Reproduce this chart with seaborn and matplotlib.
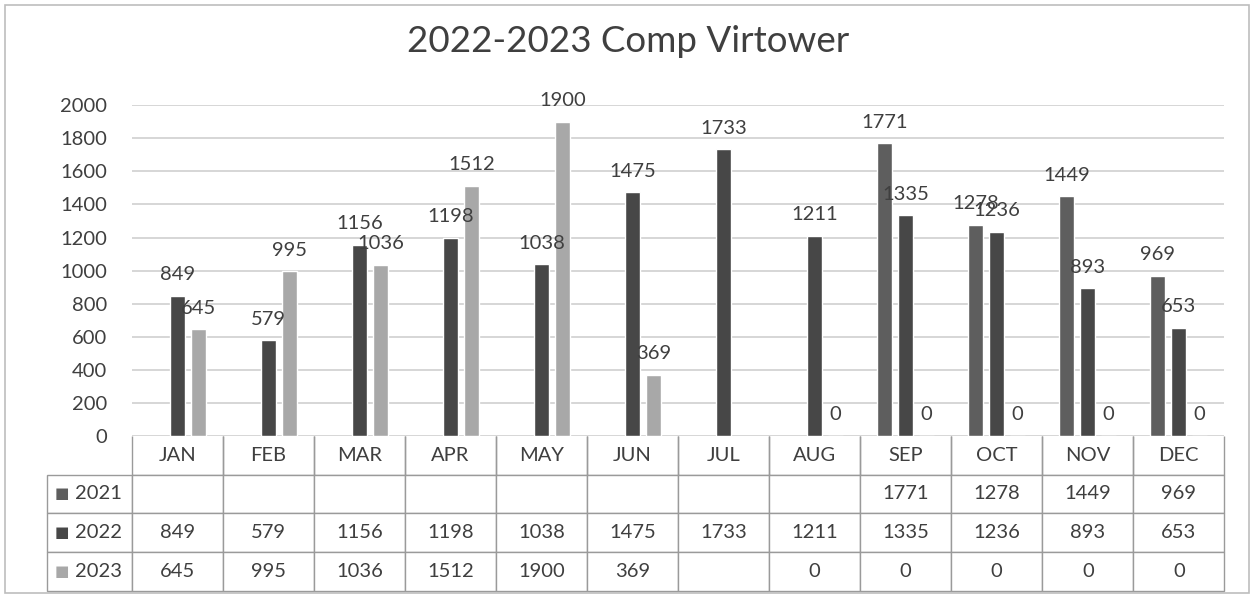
"""2022-2023 Comp Virtower: grouped monthly bars with an Excel-style data table underneath."""

import numpy as np
import pandas as pd
import matplotlib
matplotlib.use("Agg")
import matplotlib.pyplot as plt
import seaborn as sns
from matplotlib.patches import Rectangle

months = ["JAN", "FEB", "MAR", "APR", "MAY", "JUN",
          "JUL", "AUG", "SEP", "OCT", "NOV", "DEC"]
years = ["2021", "2022", "2023"]
v2021 = [np.nan] * 8 + [1771, 1278, 1449, 969]
v2022 = [849, 579, 1156, 1198, 1038, 1475, 1733, 1211, 1335, 1236, 893, 653]
v2023 = [645, 995, 1036, 1512, 1900, 369, np.nan, 0, 0, 0, 0, 0]
yticks = list(range(0, 2001, 200))

colors = {"2021": "#5e5e5e", "2022": "#474747", "2023": "#a8a8a8"}
txt = "#3f3f3f"

df = pd.DataFrame({
    "month": months * 3,
    "year": [y for y in years for _ in months],
    "value": v2021 + v2022 + v2023,
}).dropna()

sns.set_style("white")
plt.rcParams["font.family"] = ["Lato", "DejaVu Sans"]

fig = plt.figure(figsize=(12.57, 5.98), dpi=100)
ax = fig.add_axes([0.105, 0.271, 0.869, 0.553])

sns.barplot(data=df, x="month", y="value", hue="year", order=months,
            hue_order=years, palette=colors, width=0.69, gap=0.28,
            saturation=1, legend=False, ax=ax, errorbar=None)

for cont in ax.containers:
    ax.bar_label(cont, fmt="%d", padding=9, fontsize=14.5, color=txt)

ax.set_ylim(0, 2000)
ax.set_yticks(yticks)
ax.set_xlim(-0.5, len(months) - 0.5)
ax.yaxis.grid(True, color="#cfcfcf", linewidth=1.2)
ax.set_axisbelow(True)
ax.tick_params(axis="y", length=0, pad=18, labelsize=14.5, labelcolor=txt)
ax.set_xticks([])
ax.set_xlabel("")
ax.set_ylabel("")
sns.despine(ax=ax, left=True, bottom=True)

# data table under the plot
rows = [[y] + ["" if np.isnan(v) else f"{int(v)}" for v in vals]
        for y, vals in zip(years, [v2021, v2022, v2023])]
tab = ax.table(cellText=rows, colLabels=[""] + months,
               colWidths=[85] + [91] * 12,
               bbox=[-0.078, -0.468, 1.078, 0.468], cellLoc="center")
tab.auto_set_font_size(False)
for (r, c), cell in tab.get_celld().items():
    cell.set_edgecolor("#9a9a9a")
    cell.set_linewidth(1.0)
    cell.set_fontsize(14.5)
    cell.get_text().set_color(txt)
    if r == 0 and c == 0:
        cell.visible_edges = ""
    elif r == 0:
        cell.visible_edges = "BLR"
    if c == 0 and r > 0:
        cell.get_text().set_ha("left")
        cell._loc = "left"
        cell.PAD = 0.33

fig.canvas.draw()
for r, y in enumerate(years, start=1):
    cell = tab[r, 0]
    ax.text(cell.get_x() + 0.007, cell.get_y() + cell.get_height() / 2, "■",
            color=colors[y], fontsize=11, ha="left", va="center",
            transform=ax.transAxes, family="DejaVu Sans")

fig.suptitle("2022-2023 Comp Virtower", x=0.5, y=0.958, fontsize=26.5,
             color=txt)
fig.patches.append(Rectangle((0.004, 0.008), 0.99, 0.983, transform=fig.transFigure,
                             fill=False, edgecolor="#bdbdbd", linewidth=1.2))

fig.savefig("out.png", dpi=100)
